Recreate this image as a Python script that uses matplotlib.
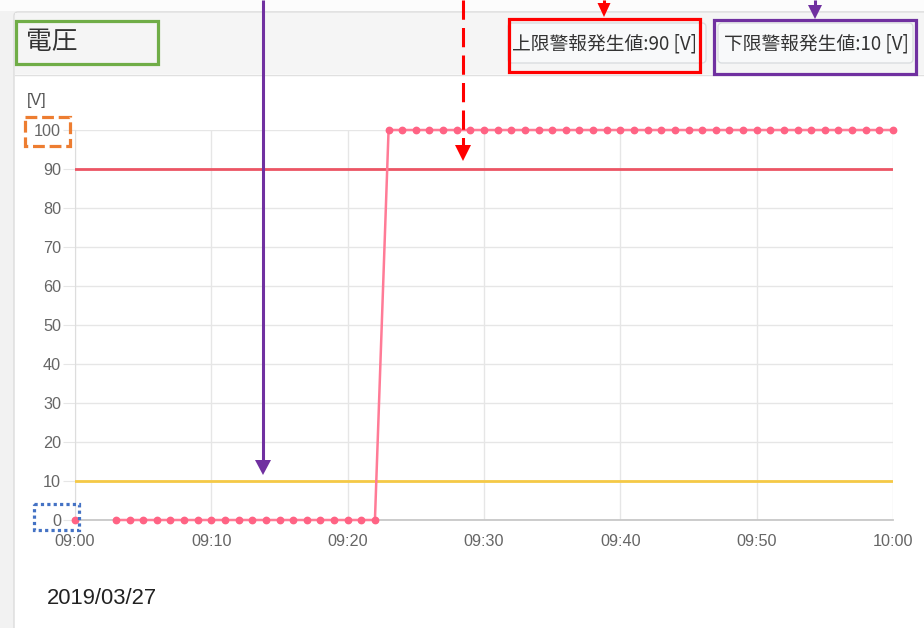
import matplotlib.pyplot as plt
import matplotlib.patches as mpatches
import numpy as np

# voltage data, one reading per minute from 09:00 (nan = no reading)
minutes = list(range(0, 61))
voltage = [0, np.nan, np.nan,
           0, 0, 0, 0, 0, 0, 0, 0, 0, 0,
           0, 0, 0, 0, 0, 0, 0, 0, 0, 0,
           100, 100, 100, 100, 100, 100, 100, 100, 100, 100,
           100, 100, 100, 100, 100, 100, 100, 100, 100, 100,
           100, 100, 100, 100, 100, 100, 100, 100, 100, 100,
           100, 100, 100, 100, 100, 100, 100, 100]
upper_limit = 90
lower_limit = 10
x_ticks = [0, 10, 20, 30, 40, 50, 60]
x_labels = ['09:00', '09:10', '09:20', '09:30', '09:40', '09:50', '10:00']
y_ticks = [0, 10, 20, 30, 40, 50, 60, 70, 80, 90, 100]

title = '電圧'
upper_text = f'上限警報発生値:{upper_limit} [V]'
lower_text = f'下限警報発生値:{lower_limit} [V]'
date_text = '2019/03/27'

W, H = 924, 628
cjk = ['Noto Sans CJK JP', 'DejaVu Sans']
latin = ['Liberation Sans', 'DejaVu Sans']

fig = plt.figure(figsize=(W / 100, H / 100), dpi=100)

# background: card + header (pixel coords, y down)
bg = fig.add_axes([0, 0, 1, 1], zorder=0)
bg.set_xlim(0, W)
bg.set_ylim(H, 0)
bg.axis('off')
bg.add_patch(mpatches.Rectangle((0, 0), W, H, facecolor='#f2f2f2', edgecolor='none'))
bg.add_patch(mpatches.Rectangle((0, 0), W, 11, facecolor='#fcfcfc', edgecolor='none'))
bg.add_patch(mpatches.FancyBboxPatch((14, 12), W + 20, H + 20, boxstyle='round,pad=0,rounding_size=4',
                                     facecolor='white', edgecolor='#dcdcdc', linewidth=1))
bg.add_patch(mpatches.Rectangle((15, 13), W, 61, facecolor='#f5f5f5', edgecolor='none'))
bg.plot([15, W], [74.5, 74.5], color='#e0e0e0', lw=1)

# buttons in header
for x0, x1 in [(508, 706), (718, 913)]:
    bg.add_patch(mpatches.FancyBboxPatch((x0, 23), x1 - x0, 40, boxstyle='round,pad=0,rounding_size=4',
                                         facecolor='#f8f9fa', edgecolor='#dadde0', linewidth=1))
bg.text(26, 42, title, fontsize=18.5, family=cjk, color='#333333', va='center', ha='left')
bg.text(605, 44, upper_text, fontsize=13.5, family=cjk, color='#333333', va='center', ha='center')
bg.text(816, 44, lower_text, fontsize=13.5, family=cjk, color='#333333', va='center', ha='center')
bg.text(47, 599, date_text, fontsize=15.8, family=latin, color='#222222', va='center', ha='left')
bg.text(27, 101, '[V]', fontsize=11.5, family=latin, color='#555555', va='center', ha='left')

# chart
ax = fig.add_axes([75 / W, 1 - 520 / H, (893 - 75) / W, (520 - 130) / H], zorder=1)
ax.patch.set_alpha(0)
ax.set_xlim(0, 60)
ax.set_ylim(0, 100)
ax.set_xticks(x_ticks)
ax.set_xticklabels(x_labels)
ax.set_yticks(y_ticks)
ax.grid(True, color='#e6e6e6', linewidth=1)
for s in ['top', 'right']:
    ax.spines[s].set_visible(False)
ax.spines['left'].set_color('#dddddd')
ax.spines['bottom'].set_color('#c8c8c8')
ax.spines['bottom'].set_linewidth(1.3)
ax.tick_params(axis='y', length=9, pad=1, color='#e6e6e6', labelsize=11.7, labelcolor='#666666')
ax.tick_params(axis='x', length=0, pad=10, labelsize=11.7, labelcolor='#666666')
for lbl in ax.get_xticklabels() + ax.get_yticklabels():
    lbl.set_family(latin)

ax.axhline(upper_limit, color='#ec5564', linewidth=2, zorder=3)
ax.axhline(lower_limit, color='#f5c946', linewidth=2, zorder=3)
ax.plot(minutes, voltage, color='#ff7b96', linewidth=1.8, marker='o', markersize=4.6,
        markerfacecolor='#ff6384', markeredgecolor='#ff6384', zorder=4, clip_on=False)

# annotation overlay
ov = fig.add_axes([0, 0, 1, 1], zorder=5)
ov.set_xlim(0, W)
ov.set_ylim(H, 0)
ov.axis('off')
ov.patch.set_alpha(0)

def arrow(x, y_tip, color, head=15, width=16, dashed=False):
    ls = (0, (6.3, 2.7)) if dashed else '-'
    ov.plot([x, x], [0, y_tip - head + 1], color=color, lw=2.2, linestyle=ls, solid_capstyle='butt')
    ov.add_patch(mpatches.Polygon([(x - width / 2, y_tip - head), (x + width / 2, y_tip - head), (x, y_tip)],
                                  closed=True, facecolor=color, edgecolor='none'))

arrow(263, 475, '#7030a0')
arrow(463, 161, '#ff0000', head=16, dashed=True)
arrow(604, 17, '#ff0000', head=14, width=13)
arrow(815, 19, '#7030a0', head=14, width=14)

ov.add_patch(mpatches.Rectangle((16, 21), 142, 43, fill=False, edgecolor='#70ad47', linewidth=2.3))
ov.add_patch(mpatches.Rectangle((509, 18.5), 191, 53, fill=False, edgecolor='#ff0000', linewidth=2.3))
ov.add_patch(mpatches.Rectangle((714, 19.5), 202, 54, fill=False, edgecolor='#7030a0', linewidth=2.3))
ov.add_patch(mpatches.Rectangle((25, 117), 45, 29, fill=False, edgecolor='#ed7d31', linewidth=2.3,
                                linestyle=(0, (3.7, 1.5))))
ov.add_patch(mpatches.Rectangle((34, 504), 45, 26, fill=False, edgecolor='#4472c4', linewidth=2.3,
                                linestyle=(0, (1, 1))))

fig.savefig('out.png', dpi=100)
